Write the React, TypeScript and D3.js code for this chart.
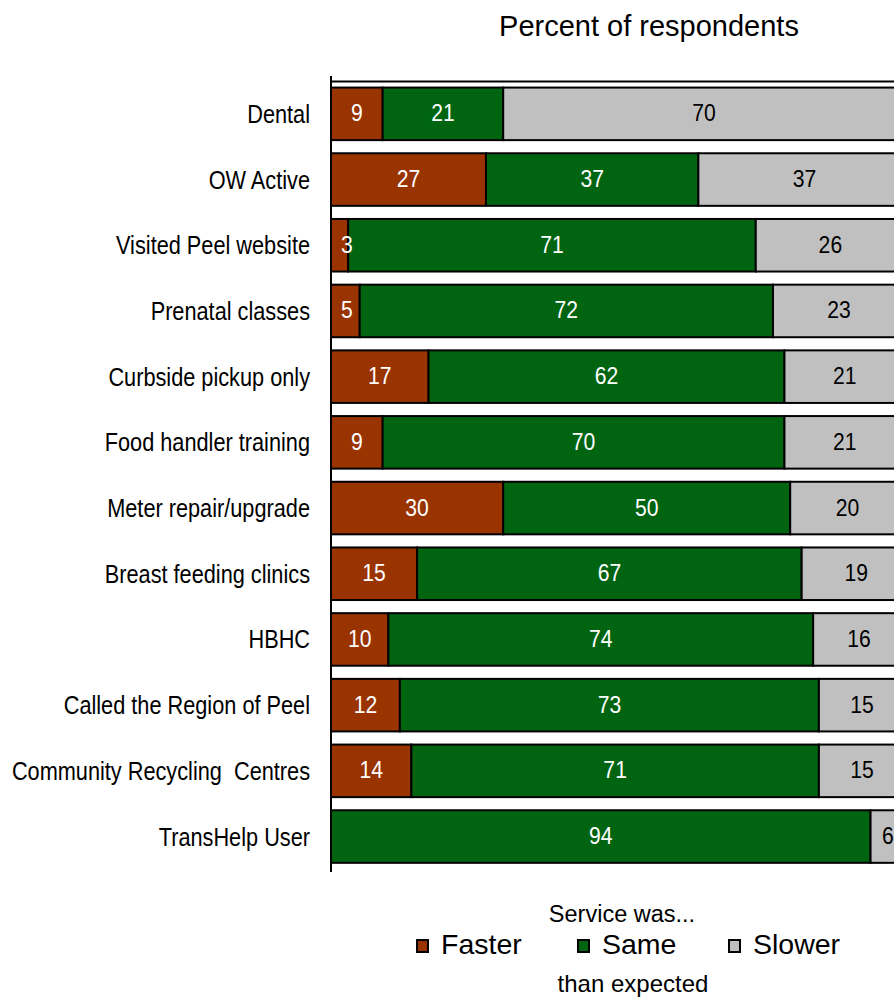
import React from "react";
import * as d3 from "d3";

// Services asked about, top to bottom
const categories = [
  "Dental",
  "OW Active",
  "Visited Peel website",
  "Prenatal classes",
  "Curbside pickup only",
  "Food handler training",
  "Meter repair/upgrade",
  "Breast feeding clinics",
  "HBHC",
  "Called the Region of Peel",
  "Community Recycling  Centres",
  "TransHelp User",
];

// Percent of respondents per service
const faster = [9, 27, 3, 5, 17, 9, 30, 15, 10, 12, 14, 0];
const same = [21, 37, 71, 72, 62, 70, 50, 67, 74, 73, 71, 94];
const slower = [70, 37, 26, 23, 21, 21, 20, 19, 16, 15, 15, 6];

const seriesKeys = ["Faster", "Same", "Slower"];
const seriesColors = ["#993300", "#006411", "#C0C0C0"];
const labelColors = ["#ffffff", "#ffffff", "#000000"];

const W = 894;
const H = 998;
const FONT = "'Liberation Sans', Arial, sans-serif";

export default function App() {
  const rows = categories.map((c, i) => ({
    category: c,
    Faster: faster[i],
    Same: same[i],
    Slower: slower[i],
  }));

  const stacked = d3.stack<any>().keys(seriesKeys)(rows);

  const x = d3.scaleLinear().domain([0, 100]).range([331, 905]);
  const y = d3
    .scaleBand<string>()
    .domain(categories)
    .range([81, 869.4])
    .paddingInner(0.2)
    .paddingOuter(0.1);

  const bw = y.bandwidth();
  const legendX = [416, 577, 728];

  return (
    <>
      <style>{`body{margin:0}`}</style>
      <svg width={W} height={H} style={{ display: "block" }} fontFamily={FONT}>
        <rect width={W} height={H} fill="#ffffff" />

        {/* title */}
        <text x={649} y={35.5} textAnchor="middle" fontSize={29} fill="#000">
          Percent of respondents
        </text>

        {/* bar segments */}
        {stacked.map((s, si) => (
          <g key={s.key}>
            {s.map((d, i) => {
              const v = d[1] - d[0];
              if (v <= 0) return null;
              const x0 = x(d[0]);
              const x1 = x(d[1]);
              const yy = y(categories[i])!;
              return (
                <rect
                  key={i}
                  x={x0}
                  y={yy}
                  width={x1 - x0}
                  height={bw}
                  fill={seriesColors[si]}
                  stroke="#000"
                  strokeWidth={2}
                />
              );
            })}
          </g>
        ))}

        {/* value labels */}
        {stacked.map((s, si) => (
          <g key={`l-${s.key}`}>
            {s.map((d, i) => {
              const v = d[1] - d[0];
              if (v <= 0) return null;
              const x0 = x(d[0]);
              const x1 = x(d[1]);
              const cx = Math.max((x0 + x1) / 2, x0 + 16);
              const cy = y(categories[i])! + bw / 2;
              return (
                <text
                  key={i}
                  transform={`translate(${cx},${cy + 7.5}) scale(0.92,1)`}
                  textAnchor="middle"
                  fontSize={23}
                  fill={labelColors[si]}
                >
                  {v}
                </text>
              );
            })}
          </g>
        ))}

        {/* axes */}
        <line x1={331} x2={W} y1={81.5} y2={81.5} stroke="#000" strokeWidth={2} />
        <line x1={331} x2={331} y1={76} y2={872} stroke="#000" strokeWidth={2} />

        {/* category labels */}
        {categories.map((c) => (
          <text
            key={c}
            transform={`translate(310,${y(c)! + bw / 2 + 9}) scale(0.82,1)`}
            textAnchor="end"
            fontSize={26.5}
            fill="#000"
            style={{ whiteSpace: "pre" }}
          >
            {c}
          </text>
        ))}

        {/* legend */}
        <text x={622} y={922} textAnchor="middle" fontSize={23.5} fill="#000">
          Service was...
        </text>
        {seriesKeys.map((k, i) => (
          <g key={k}>
            <rect
              x={legendX[i] + 1}
              y={940}
              width={11}
              height={12}
              fill={seriesColors[i]}
              stroke="#000"
              strokeWidth={2}
            />
            <text x={legendX[i] + 25} y={954} fontSize={28.5} fill="#000">
              {k}
            </text>
          </g>
        ))}
        <text x={633} y={992} textAnchor="middle" fontSize={24} fill="#000">
          than expected
        </text>
      </svg>
    </>
  );
}
